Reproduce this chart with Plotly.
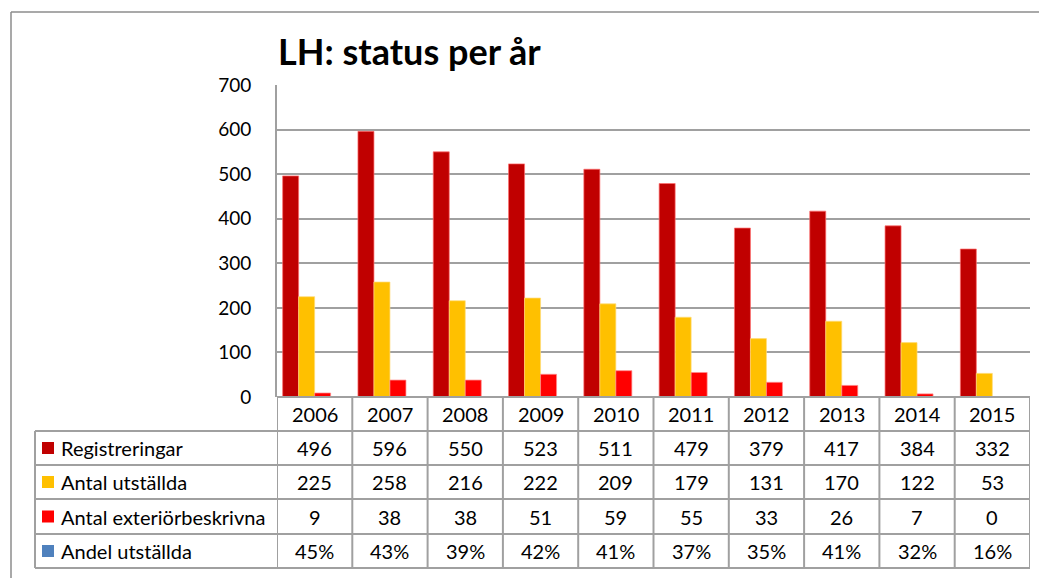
import plotly.graph_objects as go

years = ["2006", "2007", "2008", "2009", "2010", "2011", "2012", "2013", "2014", "2015"]
registreringar = [496, 596, 550, 523, 511, 479, 379, 417, 384, 332]
antal_utstallda = [225, 258, 216, 222, 209, 179, 131, 170, 122, 53]
antal_exterior = [9, 38, 38, 51, 59, 55, 33, 26, 7, 0]
andel_utstallda = [0.45, 0.43, 0.39, 0.42, 0.41, 0.37, 0.35, 0.41, 0.32, 0.16]
andel_labels = ["45%", "43%", "39%", "42%", "41%", "37%", "35%", "41%", "32%", "16%"]

series = [
    ("Registreringar", registreringar, "#C00000", "rgba(255,110,110,0.7)", [str(v) for v in registreringar]),
    ("Antal utställda", antal_utstallda, "#FFC000", "rgba(255,220,120,0.7)", [str(v) for v in antal_utstallda]),
    ("Antal exteriörbeskrivna", antal_exterior, "#FF0000", "rgba(255,140,140,0.7)", [str(v) for v in antal_exterior]),
    ("Andel utställda", andel_utstallda, "#4F81BD", "rgba(79,129,189,0.0)", andel_labels),
]

FONT = "Lato"
W, H = 1039, 578
L, R, T, B = 277, 9, 85, 181
PW = W - L - R
PH = H - T - B

def py(pix):
    return (H - B - pix) / PH

def px(pix):
    return (pix - L) / PW

fig = go.Figure()
for name, vals, col, lc, _ in series:
    fig.add_trace(go.Bar(x=years, y=vals, name=name, marker=dict(color=col, line=dict(color=lc, width=1)),
                         showlegend=False))

shapes = []
annotations = []
gray = "#A0A0A0"
row_pix = [397, 431, 465, 499, 534, 568]
left_pix = 35

# horizontal lines of table
shapes.append(dict(type="line", xref="paper", yref="paper", x0=0, x1=1, y0=py(row_pix[0]), y1=py(row_pix[0]),
                   line=dict(color=gray, width=2)))
for rp in row_pix[1:]:
    shapes.append(dict(type="line", xref="paper", yref="paper", x0=px(left_pix), x1=1, y0=py(rp), y1=py(rp),
                       line=dict(color=gray, width=2)))
# vertical lines
shapes.append(dict(type="line", xref="paper", yref="paper", x0=px(left_pix), x1=px(left_pix),
                   y0=py(row_pix[1]), y1=py(row_pix[-1]), line=dict(color=gray, width=2)))
for i in range(len(years) + 1):
    shapes.append(dict(type="line", xref="x", yref="paper", x0=i - 0.5, x1=i - 0.5,
                       y0=py(row_pix[0]), y1=py(row_pix[-1]), line=dict(color=gray, width=2)))

# outer chart border (top and left)
shapes.append(dict(type="line", xref="paper", yref="paper", x0=px(11), x1=px(W + 5), y0=py(12), y1=py(12),
                   line=dict(color="#8C8C8C", width=1.5)))
shapes.append(dict(type="line", xref="paper", yref="paper", x0=px(11), x1=px(11), y0=py(12), y1=py(H + 5),
                   line=dict(color="#8C8C8C", width=1.5)))

TS = 20
# header years
for i, yr in enumerate(years):
    annotations.append(dict(x=i, y=py((row_pix[0] + row_pix[1]) / 2), xref="x", yref="paper", text=yr,
                            showarrow=False, font=dict(family=FONT, size=TS, color="#000000"),
                            xanchor="center", yanchor="middle"))

# rows
for r, (name, vals, col, lc, labels) in enumerate(series):
    yc = py((row_pix[r + 1] + row_pix[r + 2]) / 2)
    shapes.append(dict(type="rect", xref="paper", yref="paper", x0=px(42), x1=px(54),
                       y0=yc - 6 / PH, y1=yc + 6 / PH, fillcolor=col, line=dict(width=0)))
    annotations.append(dict(x=px(59), y=yc, xref="paper", yref="paper", text=name, showarrow=False,
                            font=dict(family=FONT, size=TS, color="#000000"), xanchor="left", yanchor="middle"))
    for i, lab in enumerate(labels):
        annotations.append(dict(x=i, y=yc, xref="x", yref="paper", text=lab, showarrow=False,
                                font=dict(family=FONT, size=TS, color="#000000"),
                                xanchor="center", yanchor="middle"))

# title
annotations.append(dict(x=px(409), y=py(51), xref="paper", yref="paper", text="<b>LH: status per år</b>",
                        showarrow=False, font=dict(family=FONT, size=36, color="#000000"),
                        xanchor="center", yanchor="middle"))

fig.update_layout(
    width=W, height=H,
    margin=dict(l=L, r=R, t=T, b=B),
    paper_bgcolor="white", plot_bgcolor="white",
    barmode="group", bargap=0.15, bargroupgap=0,
    shapes=shapes, annotations=annotations,
    font=dict(family=FONT, size=19, color="#000000"),
    xaxis=dict(type="category", range=[-0.5, 9.5], showticklabels=False, showgrid=False,
               showline=False, zeroline=False, ticks=""),
    yaxis=dict(range=[0, 700], dtick=100, showgrid=True, gridcolor=gray, gridwidth=2,
               showline=True, linecolor=gray, linewidth=2, zeroline=False, ticks="",
               ticklabelstandoff=20, tickfont=dict(family=FONT, size=19, color="#000000")),
)

fig.write_html("out.html", config={"displayModeBar": False},
               post_script="document.body.style.margin='0';document.body.style.overflow='hidden';")
